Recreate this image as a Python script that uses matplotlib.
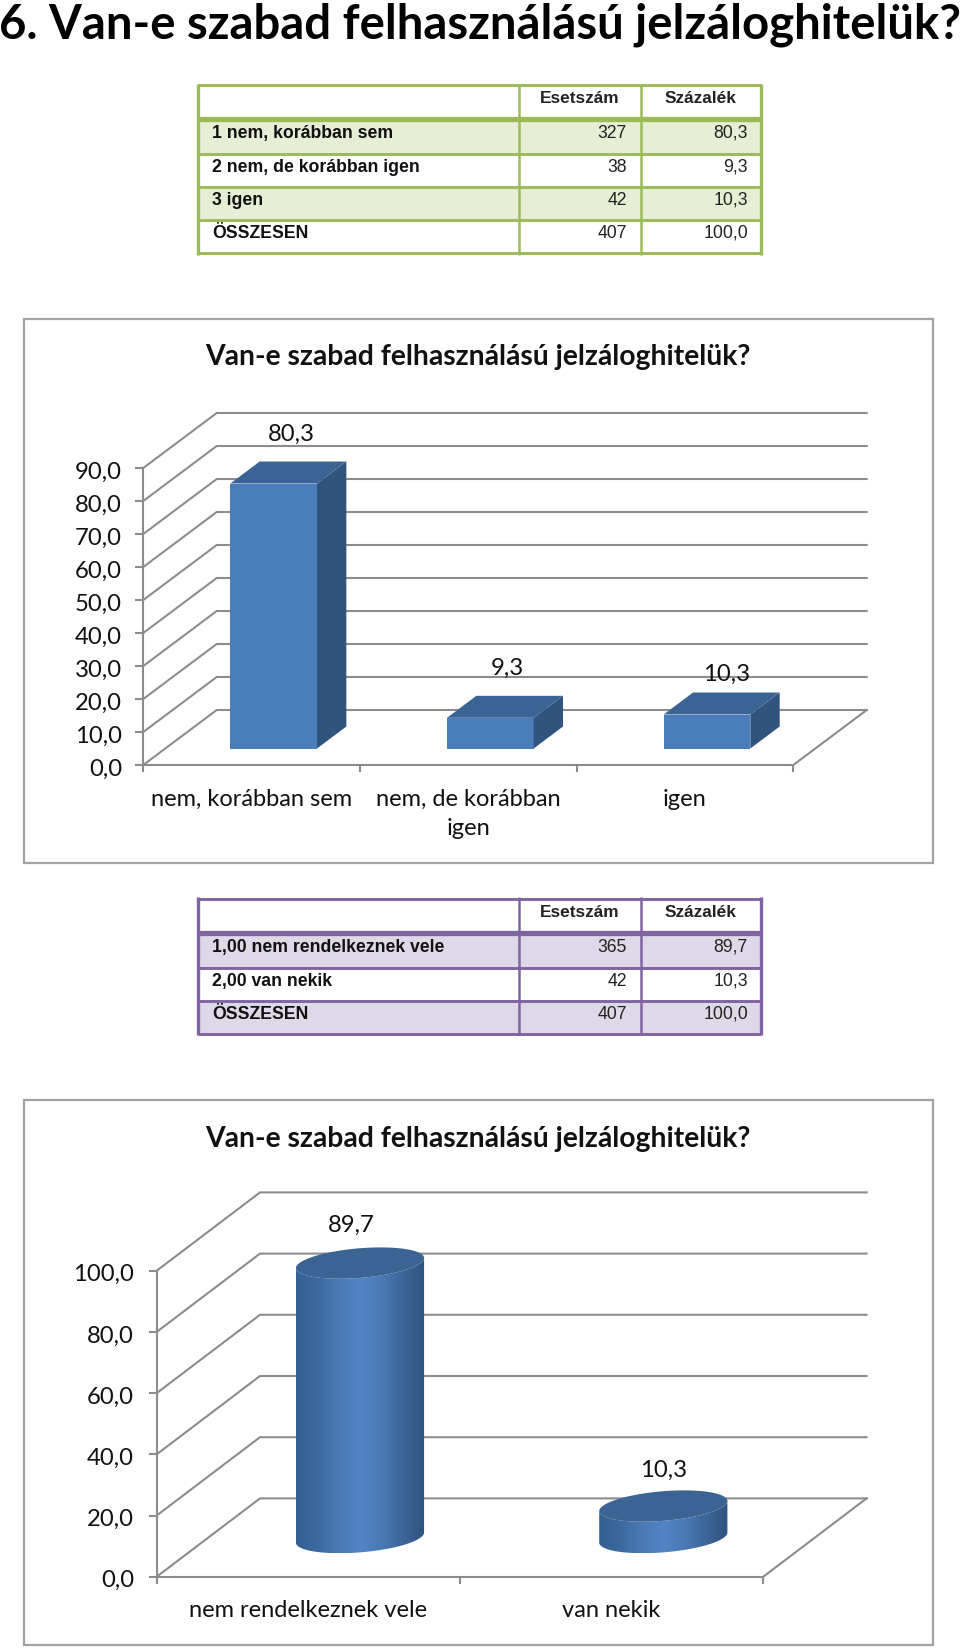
import numpy as np
import matplotlib
matplotlib.use('Agg')
import matplotlib.pyplot as plt
from matplotlib.colors import LinearSegmentedColormap
from matplotlib.patches import Polygon, Rectangle
from matplotlib.transforms import ScaledTranslation

W, H = 960, 1648

main_title = '6. Van-e szabad felhasználású jelzáloghitelük?'
chart_title = 'Van-e szabad felhasználású jelzáloghitelük?'

table_header = ['Esetszám', 'Százalék']

table1_labels = ['1 nem, korábban sem', '2 nem, de korábban igen', '3 igen', 'ÖSSZESEN']
table1_counts = ['327', '38', '42', '407']
table1_pcts = ['80,3', '9,3', '10,3', '100,0']

table2_labels = ['1,00 nem rendelkeznek vele', '2,00 van nekik', 'ÖSSZESEN']
table2_counts = ['365', '42', '407']
table2_pcts = ['89,7', '10,3', '100,0']

bar_cats = ['nem, korábban sem', 'nem, de korábban\nigen', 'igen']
bar_vals = [80.3, 9.3, 10.3]
bar_ticks = [0, 10, 20, 30, 40, 50, 60, 70, 80, 90]

cyl_cats = ['nem rendelkeznek vele', 'van nekik']
cyl_vals = [89.7, 10.3]
cyl_ticks = [0, 20, 40, 60, 80, 100]

GRID = '#8c8c8c'
FRAME = '#a3a3a3'
FRONT = '#4a7ebb'
TOP = '#3b6393'
SIDE = '#31547f'
CAL = 'Lato'
ARIAL = 'Liberation Sans'
TEXT = '#111111'
NUM = '#222222'

fig = plt.figure(figsize=(W / 100, H / 100), dpi=100)
bg = fig.add_axes([0, 0, 1, 1])
bg.set_xlim(0, W)
bg.set_ylim(H, 0)
bg.axis('off')


def comma(v):
    return ('%.1f' % v).replace('.', ',')


def draw_table(top_ys, labels, counts, pcts, edge, fill):
    xs = [198, 519, 640.5, 761]
    n = len(labels)
    # every other row is tinted, starting with the first
    for i in range(0, n, 2):
        bg.add_patch(Rectangle((xs[0], top_ys[i + 1]), xs[3] - xs[0],
                               top_ys[i + 2] - top_ys[i + 1], fc=fill, ec='none'))
    for i, y in enumerate(top_ys):
        lw = 3.8 if i == 1 else 2.1
        bg.plot([xs[0], xs[3]], [y, y], color=edge, lw=lw, solid_capstyle='butt')
    for j, x in enumerate(xs):
        lw = 2.4 if j in (0, 3) else 1.8
        bg.plot([x, x], [top_ys[0] - 1.5, top_ys[-1] + 1.5], color=edge, lw=lw,
                solid_capstyle='butt')
    head_y = (top_ys[0] + top_ys[1]) / 2 - 3.5
    for j, h in enumerate(table_header):
        bg.text((xs[j + 1] + xs[j + 2]) / 2, head_y, h, family=ARIAL, fontsize=12.4,
                fontweight='bold', color=NUM, ha='center', va='center')
    for i in range(n):
        y = (top_ys[i + 1] + top_ys[i + 2]) / 2 - 2.8
        bg.text(212, y, labels[i], family=ARIAL, fontsize=12.7, fontweight='bold',
                color=TEXT, ha='left', va='center')
        bg.text(627, y, counts[i], family=ARIAL, fontsize=12.7, color=NUM,
                ha='right', va='center')
        bg.text(748, y, pcts[i], family=ARIAL, fontsize=12.7, color=NUM,
                ha='right', va='center')


def depth_axes(px_left, px_right, px_bottom, px_top, n, ymax, cat_px, unit_px):
    # axes holds the front plane plus the room the depth offset needs
    ax = fig.add_axes([px_left / W, 1 - px_bottom / H,
                       (px_right - px_left) / W, (px_bottom - px_top) / H])
    ax.set_xlim(0, (px_right - px_left) / cat_px)
    ax.set_ylim(0, (px_bottom - px_top) / unit_px)
    ax.patch.set_alpha(0)
    for s in ['top', 'right']:
        ax.spines[s].set_visible(False)
    for s in ['left', 'bottom']:
        ax.spines[s].set_color(GRID)
        ax.spines[s].set_linewidth(1.5)
    ax.spines['left'].set_bounds(0, ymax)
    ax.spines['bottom'].set_bounds(0, n)
    return ax


def walls(ax, ticks, n, dx, dy):
    for v in ticks:
        ax.plot([0, dx, n + dx], [v, v + dy, v + dy], color=GRID, lw=1.5,
                solid_joinstyle='miter', zorder=1, clip_on=False)
    ax.plot([n, n + dx], [0, dy], color=GRID, lw=1.5, zorder=1, clip_on=False)


def axis_labels(ax, ticks, cats, pad_y, pad_x):
    n = len(cats)
    ax.set_yticks(ticks)
    ax.set_yticklabels([comma(t) for t in ticks])
    ax.tick_params(axis='y', length=5.8, width=1.5, color=GRID, pad=pad_y,
                   labelsize=17.2, labelcolor=TEXT)
    # Lato digits sit a little high next to the tick
    shift = ScaledTranslation(0, -0.02, fig.dpi_scale_trans)
    for lab in ax.get_yticklabels():
        lab.set_transform(lab.get_transform() + shift)
    ax.set_xticks(range(n + 1))
    ax.set_xticklabels([])
    ax.tick_params(axis='x', which='major', length=5, width=1.5, color=GRID)
    ax.set_xticks(np.arange(n) + 0.5, minor=True)
    ax.set_xticklabels(cats, minor=True, linespacing=1.5)
    ax.tick_params(axis='x', which='minor', length=0, pad=pad_x, labelsize=17.0,
                   labelcolor=TEXT)


def draw_box(ax, cx, val, dx, dy):
    hw, d0, d1 = 0.2, 0.3, 0.7
    x0, x1 = cx - hw, cx + hw
    ax.add_patch(Polygon([(x0 + d0 * dx, d0 * dy), (x1 + d0 * dx, d0 * dy),
                          (x1 + d0 * dx, val + d0 * dy), (x0 + d0 * dx, val + d0 * dy)],
                         fc=FRONT, ec='none', zorder=3))
    ax.add_patch(Polygon([(x1 + d0 * dx, d0 * dy), (x1 + d1 * dx, d1 * dy),
                          (x1 + d1 * dx, val + d1 * dy), (x1 + d0 * dx, val + d0 * dy)],
                         fc=SIDE, ec='none', zorder=3))
    ax.add_patch(Polygon([(x0 + d0 * dx, val + d0 * dy), (x1 + d0 * dx, val + d0 * dy),
                          (x1 + d1 * dx, val + d1 * dy), (x0 + d1 * dx, val + d1 * dy)],
                         fc=TOP, ec='none', zorder=3))


cyl_cmap = LinearSegmentedColormap.from_list(
    'cyl', ['#33608f', '#3c6a9f', '#4a7ab5', '#5185c6', '#4a7ab5', '#3c6598', '#2f5380'])


def draw_cylinder(ax, cx, val, dx, dy):
    r, e, d0 = 0.2, 0.2, 0.5
    tstar = np.arctan2(e * dx, r)
    t = np.linspace(tstar + np.pi, tstar + 2 * np.pi, 80)
    xs = cx + d0 * dx + r * np.cos(t) + e * dx * np.sin(t)
    low = d0 * dy + e * dy * np.sin(t)
    pts = list(zip(xs, low)) + list(zip(xs[::-1], (low + val)[::-1]))
    side = Polygon(pts, fc='none', ec='none', zorder=3)
    ax.add_patch(side)
    grad = np.linspace(0, 1, 200).reshape(1, -1)
    xlim, ylim = ax.get_xlim(), ax.get_ylim()
    im = ax.imshow(grad, cmap=cyl_cmap, aspect='auto', zorder=3,
                   extent=[xs.min(), xs.max(), low.min(), (low + val).max()])
    im.set_clip_path(side)
    ax.set_xlim(xlim)
    ax.set_ylim(ylim)
    t2 = np.linspace(0, 2 * np.pi, 160)
    ax.add_patch(Polygon(list(zip(cx + d0 * dx + r * np.cos(t2) + e * dx * np.sin(t2),
                                  val + d0 * dy + e * dy * np.sin(t2))),
                         fc=TOP, ec='none', zorder=4))


plt.rcParams['font.family'] = [CAL, 'DejaVu Sans']

bg.text(-1, 38, main_title, fontsize=34, fontweight='bold', color='#000000',
        ha='left', va='baseline')

draw_table([85, 119, 153.5, 186.5, 219.5, 253], table1_labels, table1_counts,
           table1_pcts, '#9bbb59', '#e6eed5')
bg.add_patch(Rectangle((24, 319), 909, 544, fc='white', ec=FRAME, lw=1.6))
bg.text(478, 357, chart_title, fontsize=20.3, fontweight='bold', color=TEXT,
        ha='center', va='center')

ax1 = depth_axes(143.3, 868.3, 765, 412.7, 3, 90, 216.67, 3.3)
dx1, dy1 = 73.4 / 216.67, 55 / 3.3
walls(ax1, bar_ticks, 3, dx1, dy1)
axis_labels(ax1, bar_ticks, bar_cats, 9.6, 17.1)
bar_offsets = [(3, -38), (2, -38), (5, -29)]
for i, v in enumerate(bar_vals):
    draw_box(ax1, i + 0.5, v, dx1, dy1)
    off = bar_offsets[i]
    ax1.annotate(comma(v), (i + 0.5 + dx1 / 2, v + dy1 / 2),
                 xytext=(off[0] * 0.72, -off[1] * 0.72), textcoords='offset points',
                 fontsize=17.2, color=TEXT, ha='center', va='center', zorder=5,
                 annotation_clip=False)

draw_table([898.5, 932.5, 967.5, 1000.5, 1033.5], table2_labels, table2_counts,
           table2_pcts, '#8064a2', '#dfd8e8')
bg.add_patch(Rectangle((24, 1100), 909, 544.5, fc='white', ec=FRAME, lw=1.6))
bg.text(478, 1139, chart_title, fontsize=20.3, fontweight='bold', color=TEXT,
        ha='center', va='center')

ax2 = depth_axes(156.7, 868.3, 1576.7, 1192.7, 2, 100, 303.3, 3.06)
dx2, dy2 = 103.3 / 303.3, 78.3 / 3.06
walls(ax2, cyl_ticks, 2, dx2, dy2)
axis_labels(ax2, cyl_ticks, cyl_cats, 10.5, 17)
cyl_offsets = [(-9, -37.5), (0, -36)]
for i, v in enumerate(cyl_vals):
    draw_cylinder(ax2, i + 0.5, v, dx2, dy2)
    off = cyl_offsets[i]
    ax2.annotate(comma(v), (i + 0.5 + dx2 / 2, v + dy2 / 2),
                 xytext=(off[0] * 0.72, -off[1] * 0.72), textcoords='offset points',
                 fontsize=17.2, color=TEXT, ha='center', va='center', zorder=5,
                 annotation_clip=False)

fig.savefig('out.png', dpi=100)
